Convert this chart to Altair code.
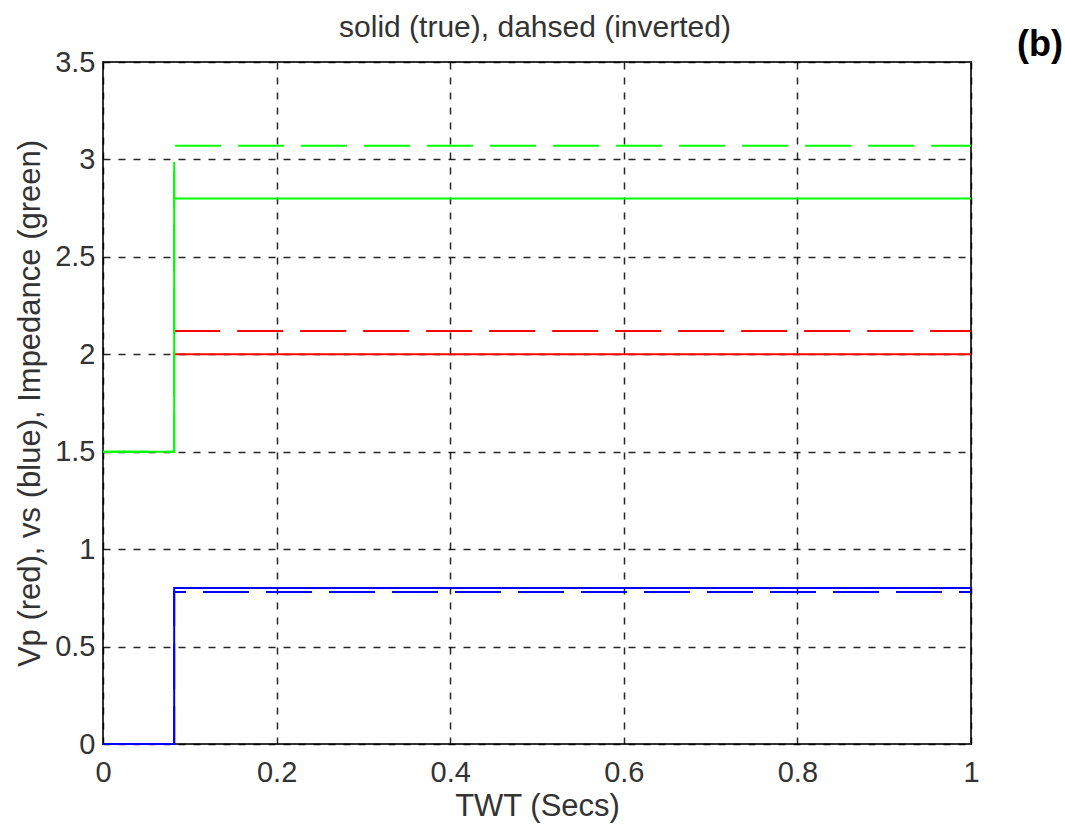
import altair as alt
import pandas as pd

# Two-way time samples and values for each curve (step at the interface)
step_t = 0.082

vp_true_t = [step_t, 1.0]
vp_true_v = [2.0, 2.0]
vp_inv_t = [step_t, 1.0]
vp_inv_v = [2.12, 2.12]

vs_true_t = [0.0, step_t, step_t, 1.0]
vs_true_v = [0.0, 0.0, 0.8, 0.8]
vs_inv_t = [0.0, step_t, step_t, 1.0]
vs_inv_v = [0.0, 0.0, 0.78, 0.78]

imp_true_t = [0.0, step_t, step_t, step_t, 1.0]
imp_true_v = [1.5, 1.5, 2.94, 2.8, 2.8]
imp_inv_t = [0.0, step_t, step_t, 1.0]
imp_inv_v = [1.5, 1.5, 3.07, 3.07]

x_ticks = [0, 0.2, 0.4, 0.6, 0.8, 1]
y_ticks = [0, 0.5, 1, 1.5, 2, 2.5, 3, 3.5]

FONT = "Liberation Sans"

series = [
    ("Vp true", vp_true_t, vp_true_v, "#ff0000", None),
    ("Vp inverted", vp_inv_t, vp_inv_v, "#ff0000", [46, 17]),
    ("Vs true", vs_true_t, vs_true_v, "#0000ff", None),
    ("Vs inverted", vs_inv_t, vs_inv_v, "#0000ff", [46, 17]),
    ("Impedance true", imp_true_t, imp_true_v, "#00ff00", None),
    ("Impedance inverted", imp_inv_t, imp_inv_v, "#00ff00", [46, 17]),
]

x_scale = alt.Scale(domain=[0, 1], nice=False, zero=False)
y_scale = alt.Scale(domain=[0, 3.5], nice=False, zero=False)

x_axis = alt.Axis(
    values=x_ticks, format="~g", title="TWT (Secs)", grid=True, ticks=False,
    domain=False, labelPadding=14, titlePadding=4, labelFlush=False,
)
y_axis = alt.Axis(
    values=y_ticks, format="~g",
    title="Vp (red), vs (blue), Impedance (green)",
    grid=True, ticks=False, domain=False, labelPadding=8, titlePadding=8,
    labelFlush=False,
)

layers = []
for name, ts, vs, color, dash in series:
    df = pd.DataFrame({"t": ts, "v": vs, "order": list(range(len(ts)))})
    mark_kwargs = dict(color=color, strokeWidth=2, clip=False)
    if dash is not None:
        mark_kwargs["strokeDash"] = dash
    layers.append(
        alt.Chart(df).mark_line(**mark_kwargs).encode(
            x=alt.X("t:Q", scale=x_scale, axis=x_axis),
            y=alt.Y("v:Q", scale=y_scale, axis=y_axis),
            order="order:Q",
        )
    )

heading = alt.Chart(pd.DataFrame({"label": ["solid (true), dahsed (inverted)"]})).mark_text(
    font=FONT, fontSize=30, color="#333333", align="center", baseline="middle",
).encode(text="label:N", x=alt.value(432), y=alt.value(-34))

panel_tag = alt.Chart(pd.DataFrame({"label": ["(b)"]})).mark_text(
    font=FONT, fontSize=36, fontWeight="bold", color="#000000",
    align="center", baseline="middle",
).encode(text="label:N", x=alt.value(937), y=alt.value(-17))

chart = (
    alt.layer(*layers, heading, panel_tag)
    .properties(
        width=868, height=682,
        padding={"left": 103, "top": 62, "right": 94, "bottom": 83},
        autosize=alt.AutoSizeParams(type="none"),
        background="white",
    )
    .configure_view(stroke="#333333", strokeWidth=2)
    .configure_axis(
        labelFont=FONT, labelFontSize=29, labelColor="#333333",
        titleFont=FONT, titleFontSize=31, titleColor="#333333",
        titleFontWeight="normal",
        gridColor="#000000", gridDash=[7, 8], gridWidth=1.5, gridOpacity=0.85,
    )
)

chart.save("out.html", embed_options={"renderer": "svg", "actions": False})
